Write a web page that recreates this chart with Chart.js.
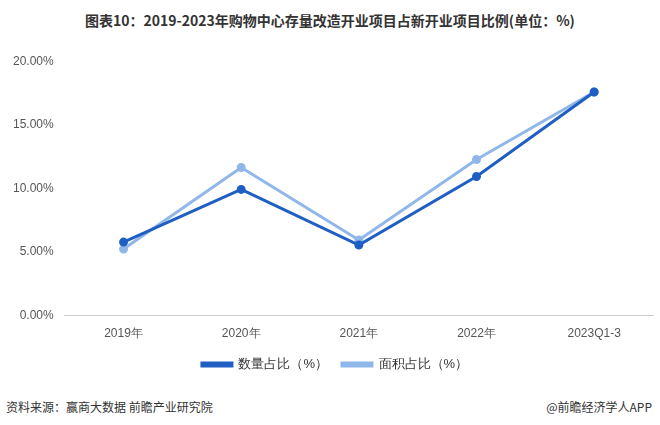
<!DOCTYPE html>
<html><head><meta charset="utf-8">
<script src="https://cdn.jsdelivr.net/npm/chart.js@4"></script>
<style>
body{margin:0;width:660px;height:425px;background:#fff;font-family:"Noto Sans CJK SC",sans-serif;position:relative;overflow:hidden}
#t{position:absolute;left:0;top:10px;width:660px;text-align:center;font-weight:bold;font-size:14px;color:#333}
#c{position:absolute;left:0;top:51px;width:660px;height:330px}
#s{position:absolute;left:6px;top:398px;font-size:12px;color:#333}
#r{position:absolute;right:8px;top:398px;font-size:12px;color:#333}
</style></head><body>
<div id="t">图表10：2019-2023年购物中心存量改造开业项目占新开业项目比例(单位：%)</div>
<div id="c"><canvas id="cv"></canvas></div>
<div id="s">资料来源：赢商大数据 前瞻产业研究院</div>
<div id="r">@前瞻经济学人APP</div>
<script>
const categories=["2019年","2020年","2021年","2022年","2023Q1-3"];
const countShare=[5.78,9.92,5.55,10.94,17.58];
const areaShare=[5.23,11.64,5.94,12.27,17.58];
new Chart(document.getElementById('cv'),{type:'line',
data:{labels:categories,datasets:[
{label:'数量占比（%）',data:countShare,borderColor:'#1f5fc4',backgroundColor:'#1f5fc4',borderWidth:3,pointRadius:3,tension:0},
{label:'面积占比（%）',data:areaShare,borderColor:'#8fb7ea',backgroundColor:'#8fb7ea',borderWidth:3,pointRadius:3,tension:0}]},
options:{responsive:true,maintainAspectRatio:false,animation:false,
layout:{padding:{left:10,right:0,top:8}},
plugins:{legend:{position:'bottom',labels:{usePointStyle:false,boxWidth:30,boxHeight:3,font:{size:13},color:'#333',padding:14}}},
scales:{y:{min:0,max:20,ticks:{stepSize:5,callback:v=>v.toFixed(2)+'%',color:'#555',font:{size:12}},grid:{display:false},border:{display:false}},
x:{offset:true,ticks:{color:'#555',font:{size:12}},grid:{display:false},border:{color:'#ccc'}}}}});
</script></body></html>
